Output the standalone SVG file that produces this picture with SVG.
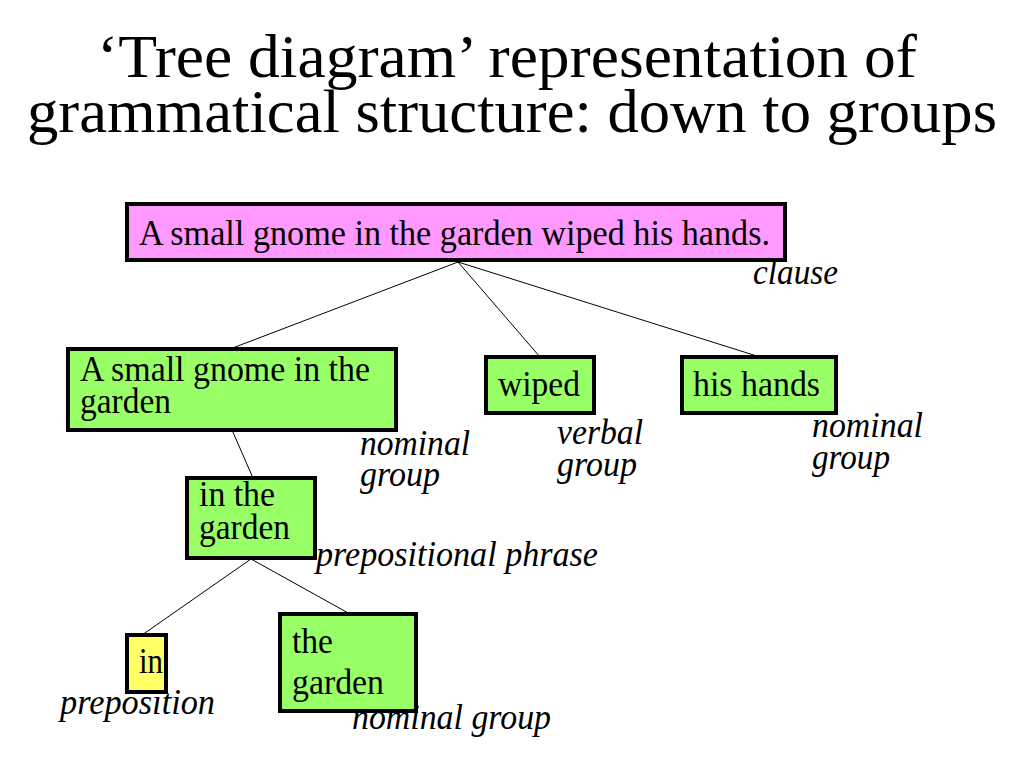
<svg xmlns="http://www.w3.org/2000/svg" width="1024" height="768" viewBox="0 0 1024 768">
<style>
.t{font-family:"Liberation Serif","Times New Roman",serif;fill:#000}
.title{font-size:62px;text-anchor:middle}
.n{font-size:36px}
.lab{font-size:35px;font-style:italic}
.box{stroke:#000;stroke-width:4}
.g{fill:#99ff66}
.p{fill:#ff99ff}
.y{fill:#ffff66}
.c line{stroke:#000;stroke-width:1}
</style>
<rect width="1024" height="768" fill="#fff"/>
<g id="title">
<text class="t title" x="507" y="77" textLength="820" lengthAdjust="spacingAndGlyphs">‘Tree diagram’ representation of</text>
<text class="t title" x="512" y="132" textLength="970" lengthAdjust="spacingAndGlyphs">grammatical structure: down to groups</text>
</g>
<g class="c" id="connectors">
<line x1="458" y1="262" x2="230" y2="349"/>
<line x1="458" y1="262" x2="540" y2="357"/>
<line x1="458" y1="262" x2="760" y2="357"/>
<line x1="232" y1="430" x2="253" y2="478"/>
<line x1="251" y1="559" x2="142" y2="635"/>
<line x1="251" y1="559" x2="350" y2="614"/>
</g>
<g id="clause">
<rect class="box p" x="127" y="204" width="658" height="56"/>
<text class="t n" x="139" y="245" textLength="631" lengthAdjust="spacingAndGlyphs">A small gnome in the garden wiped his hands.</text>
<text class="t lab" x="753" y="284" textLength="85" lengthAdjust="spacingAndGlyphs">clause</text>
</g>
<g id="ng1">
<rect class="box g" x="68" y="349" width="328" height="81"/>
<text class="t n" x="80" y="381" textLength="290" lengthAdjust="spacingAndGlyphs">A small gnome in the</text>
<text class="t n" x="80" y="413" textLength="91" lengthAdjust="spacingAndGlyphs">garden</text>
<text class="t lab" x="360" y="455" textLength="110" lengthAdjust="spacingAndGlyphs">nominal</text>
<text class="t lab" x="360" y="486" textLength="80" lengthAdjust="spacingAndGlyphs">group</text>
</g>
<g id="vg">
<rect class="box g" x="486" y="357" width="108" height="56"/>
<text class="t n" x="498" y="396" textLength="82" lengthAdjust="spacingAndGlyphs">wiped</text>
<text class="t lab" x="557" y="444" textLength="86" lengthAdjust="spacingAndGlyphs">verbal</text>
<text class="t lab" x="557" y="476" textLength="80" lengthAdjust="spacingAndGlyphs">group</text>
</g>
<g id="ng2">
<rect class="box g" x="682" y="357" width="154" height="56"/>
<text class="t n" x="693" y="396" textLength="127" lengthAdjust="spacingAndGlyphs">his hands</text>
<text class="t lab" x="812" y="437" textLength="111" lengthAdjust="spacingAndGlyphs">nominal</text>
<text class="t lab" x="812" y="469" textLength="78" lengthAdjust="spacingAndGlyphs">group</text>
</g>
<g id="pp">
<rect class="box g" x="187" y="478" width="128" height="80"/>
<text class="t n" x="199" y="506" textLength="76" lengthAdjust="spacingAndGlyphs">in the</text>
<text class="t n" x="199" y="539" textLength="91" lengthAdjust="spacingAndGlyphs">garden</text>
<text class="t lab" x="316" y="566" textLength="282" lengthAdjust="spacingAndGlyphs">prepositional phrase</text>
</g>
<g id="prep">
<rect class="box y" x="127" y="635" width="39" height="57"/>
<text class="t n" x="139" y="673" textLength="24" lengthAdjust="spacingAndGlyphs">in</text>
<text class="t lab" x="60" y="714" textLength="155" lengthAdjust="spacingAndGlyphs">preposition</text>
</g>
<g id="ng3">
<rect class="box g" x="280" y="614" width="136" height="97"/>
<text class="t n" x="292" y="653" textLength="41" lengthAdjust="spacingAndGlyphs">the</text>
<text class="t n" x="292" y="694" textLength="92" lengthAdjust="spacingAndGlyphs">garden</text>
<text class="t lab" x="352" y="729" textLength="199" lengthAdjust="spacingAndGlyphs">nominal group</text>
</g>
</svg>
